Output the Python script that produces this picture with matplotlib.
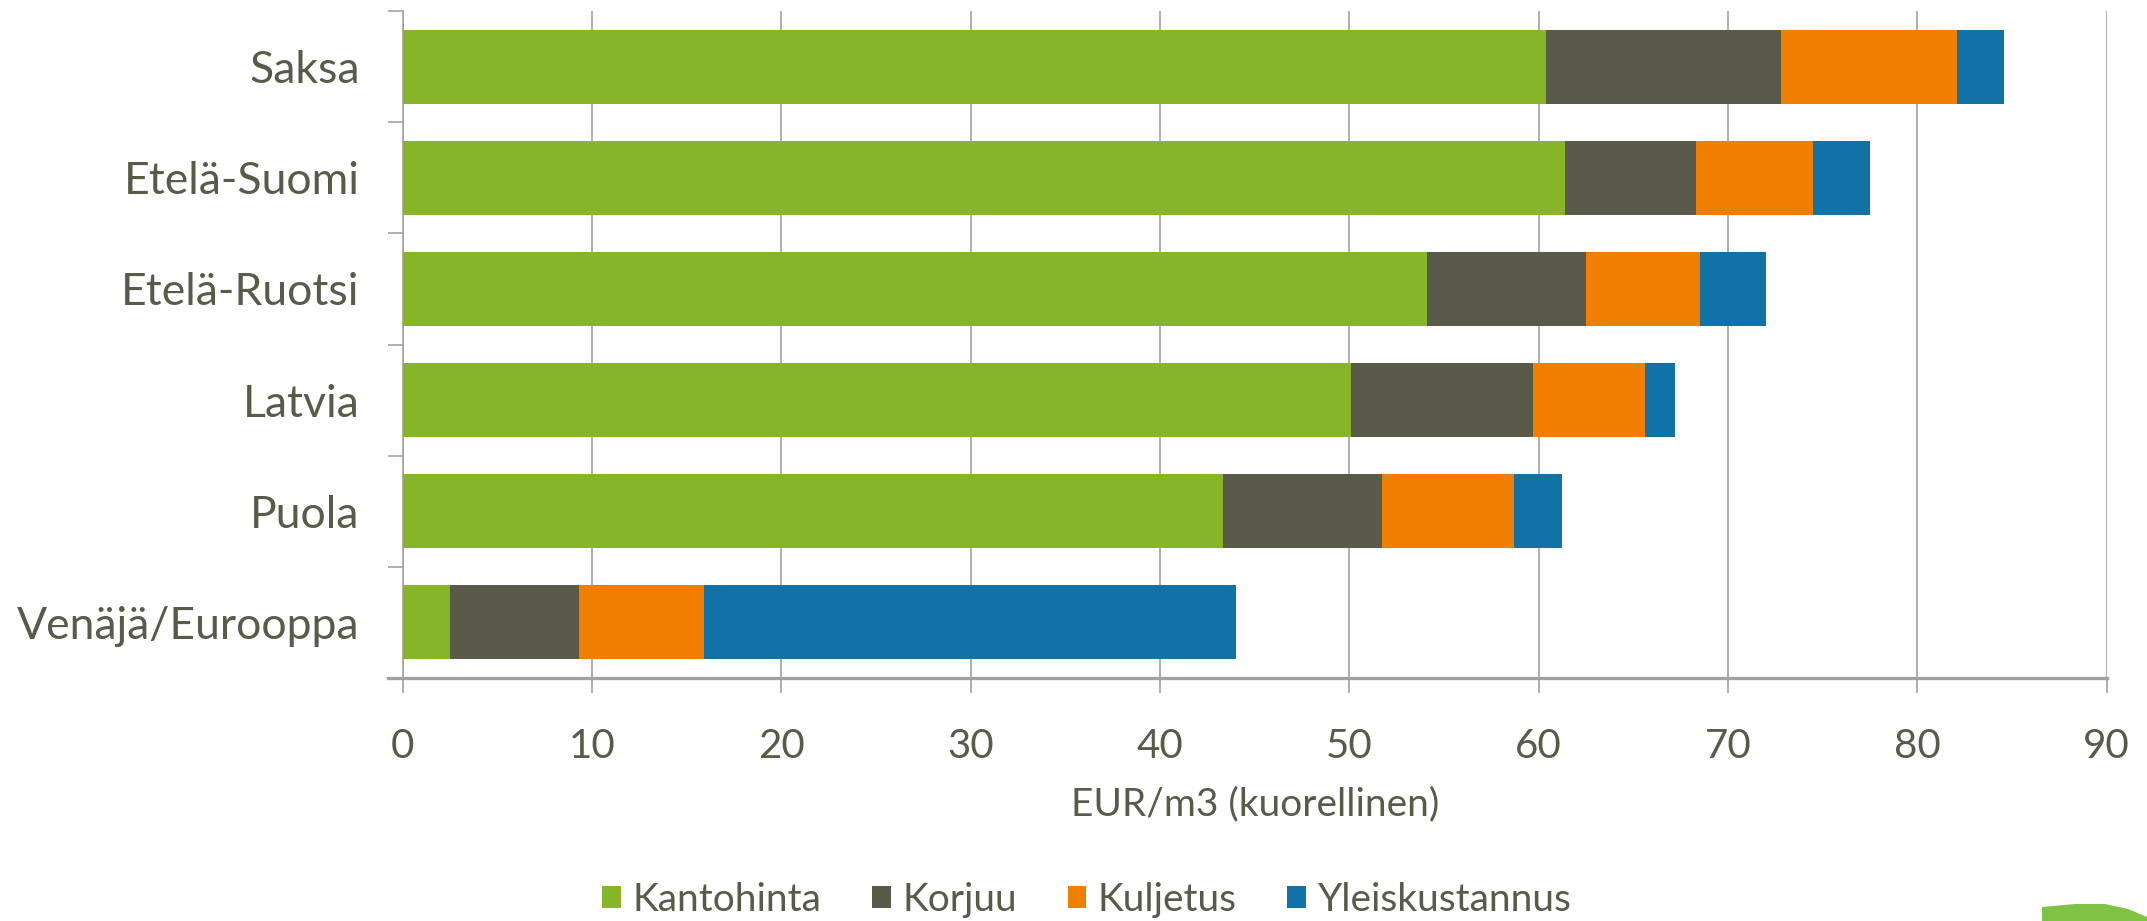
import matplotlib
matplotlib.use("Agg")
import matplotlib.pyplot as plt
from matplotlib.patches import Polygon, Patch
import numpy as np

categories = ["Saksa", "Etelä-Suomi", "Etelä-Ruotsi", "Latvia", "Puola", "Venäjä/Eurooppa"]
series_names = ["Kantohinta", "Korjuu", "Kuljetus", "Yleiskustannus"]
kantohinta = [60.4, 61.4, 54.1, 50.1, 43.3, 2.5]
korjuu = [12.4, 6.9, 8.4, 9.6, 8.4, 6.8]
kuljetus = [9.3, 6.2, 6.0, 5.9, 7.0, 6.6]
yleiskustannus = [2.5, 3.0, 3.5, 1.6, 2.55, 28.1]
xticks = [0, 10, 20, 30, 40, 50, 60, 70, 80, 90]
xlabel = "EUR/m3 (kuorellinen)"

colors = ["#86b528", "#5a5a4a", "#f07e00", "#1172a5"]
text_color = "#595a4a"
grid_color = "#a3a39c"

plt.rcParams["font.family"] = ["Lato", "DejaVu Sans"]

W, H = 2147, 921
fig = plt.figure(figsize=(W / 100, H / 100), dpi=100)
ax = fig.add_axes([402.8 / W, 1 - 678 / H, (2106.7 - 402.8) / W, (678 - 11) / H])

series = [kantohinta, korjuu, kuljetus, yleiskustannus]
y = np.arange(len(categories))
left = np.zeros(len(categories))
for name, vals, c in zip(series_names, series, colors):
    ax.barh(y, vals, left=left, height=0.665, color=c, label=name, zorder=3)
    left = left + np.array(vals)

ax.set_ylim(len(categories) - 0.5, -0.5)
ax.set_xlim(0, 90)
ax.set_xticks(xticks)
ax.set_xticklabels([str(t) for t in xticks])
ax.set_yticks(y)
ax.set_yticklabels(categories)
ax.set_yticks(np.arange(-0.5, len(categories), 1.0), minor=True)

ax.tick_params(axis="y", which="major", length=0, pad=31, labelsize=32, labelcolor=text_color)
ax.tick_params(axis="y", which="minor", length=10.8, width=1.2, color=grid_color, direction="out")
ax.tick_params(axis="x", which="major", length=10.8, width=1.2, color=grid_color, direction="out",
               pad=25, labelsize=29, labelcolor=text_color)

ax.grid(axis="x", color=grid_color, linewidth=1.2, zorder=0)
ax.set_axisbelow(True)
for s in ["top", "right"]:
    ax.spines[s].set_visible(False)
ax.spines["left"].set_color(grid_color)
ax.spines["left"].set_linewidth(1.2)
ax.spines["bottom"].set_color(grid_color)
ax.spines["bottom"].set_linewidth(2.4)
ax.spines["bottom"].set_bounds(-0.78, 90)

fig.text((402.8 + 2106.7) / 2 / W, 1 - 815 / H, xlabel, ha="center", va="baseline",
         fontsize=28, color=text_color)

handles = [Patch(facecolor=c, edgecolor="none", label=n) for n, c in zip(series_names, colors)]
leg = fig.legend(handles=handles, loc="center", bbox_to_anchor=(1087 / W, 1 - 900 / H), ncol=4,
                 frameon=False, fontsize=28, handlelength=0.48, handleheight=0.48,
                 handletextpad=0.3, columnspacing=1.3, labelcolor=text_color)

# decorative logo fragment in bottom-right corner
pts = [(2042, 921), (2042, 907), (2075, 904), (2105, 904), (2128, 909), (2147, 917), (2147, 921)]
poly = Polygon([(px / W, 1 - py / H) for px, py in pts], closed=True, transform=fig.transFigure,
               facecolor="#80c242", edgecolor="none")
fig.patches.append(poly)

fig.savefig("out.png", dpi=100)
